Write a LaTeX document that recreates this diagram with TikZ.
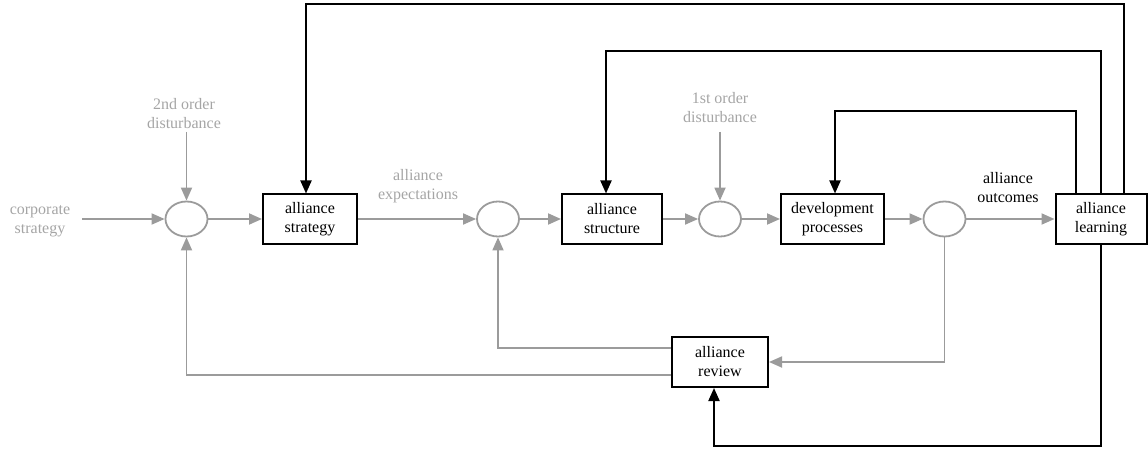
\documentclass[tikz,border=0pt]{standalone}
\usepackage{fontspec}
\setmainfont{Liberation Serif}
\usetikzlibrary{arrows.meta,shapes.geometric}
\definecolor{lgray}{RGB}{155,155,155}
\definecolor{tgray}{RGB}{165,165,165}
\tikzset{
  every node/.style={font=\fontsize{16}{19}\selectfont, align=center, inner sep=0pt},
  blk/.style={draw=black, line width=2pt, minimum height=49pt, fill=white},
  sumnode/.style={ellipse, draw=lgray, line width=1.8pt, minimum width=42pt, minimum height=35pt},
  glab/.style={text=tgray},
  garrow/.style={draw=lgray, line width=1.8pt, -{Triangle[length=13pt,width=11pt]}},
  barrow/.style={draw=black, line width=2pt, -{Triangle[length=13pt,width=11pt]}},
}
\begin{document}
\begin{tikzpicture}[x=1pt,y=-1pt]
\useasboundingbox (0,0) rectangle (1148,449);
% blocks
\node[blk, minimum width=94pt] (strat) at (310,219) {alliance\\strategy};
\node[blk, minimum width=100pt] (struc) at (612,219) {alliance\\structure};
\node[blk, minimum width=103pt] (dev) at (832.5,219) {development\\processes};
\node[blk, minimum width=91pt] (learn) at (1101,219) {alliance\\learning};
\node[blk, minimum width=96pt, minimum height=50pt] (rev) at (720,362) {alliance\\review};
% summing junctions
\node[sumnode] (e1) at (186.5,219) {};
\node[sumnode] (e2) at (498,219) {};
\node[sumnode] (e3) at (720,219) {};
\node[sumnode] (e4) at (944.5,219) {};
% labels
\node[glab] (corp) at (40,221) {corporate\\strategy};
\node[glab] (dist2) at (184,114) {2nd order\\disturbance};
\node[glab] (expec) at (418,186.5) {alliance\\expectations};
\node[glab] (dist1) at (720,107.5) {1st order\\disturbance};
\node (outc) at (1008,187.5) {alliance\\outcomes};
\coordinate (d2s) at (186.5,132);
\coordinate (d1s) at (720,132);
\coordinate (cs) at (82,219);
% forward path
\draw[garrow] (cs) -- (e1.west);
\draw[garrow] (d2s) -- (e1.north);
\draw[garrow] (e1.east) -- (strat.west);
\draw[garrow] (strat.east) -- (e2.west);
\draw[garrow] (e2.east) -- (struc.west);
\draw[garrow] (struc.east) -- (e3.west);
\draw[garrow] (d1s) -- (e3.north);
\draw[garrow] (e3.east) -- (dev.west);
\draw[garrow] (dev.east) -- (e4.west);
\draw[garrow] (e4.east) -- (learn.west);
% gray feedback
\draw[garrow] (e4.south) |- (rev.east);
\draw[garrow] ([yshift=14pt]rev.west) -| (e2.south);
\draw[garrow] ([yshift=-13pt]rev.west) -| (e1.south);
% black feedback from learning
\coordinate (t1) at (835,111);
\coordinate (t2) at (606,51);
\coordinate (t3) at (306,4);
\coordinate (b1) at (714,446);
\draw[barrow] ([xshift=-25pt]learn.north) |- (t1) -- (t1 |- dev.north);
\draw[barrow] (learn.north) |- (t2) -- (t2 |- struc.north);
\draw[barrow] ([xshift=23pt]learn.north) |- (t3) -- (t3 |- strat.north);
\draw[barrow] (learn.south) |- (b1) -- (b1 |- rev.south);
\end{tikzpicture}
\end{document}
